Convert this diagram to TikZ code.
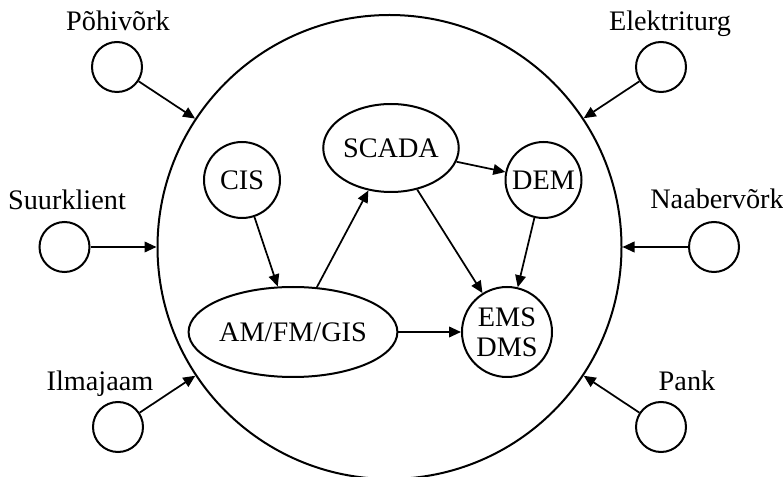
\documentclass[tikz,border=0pt]{standalone}
\usepackage{fontspec}
\setmainfont{Liberation Serif}
\usetikzlibrary{shapes.geometric,arrows.meta}

\begin{document}
\begin{tikzpicture}[x=0.75pt,y=-0.75pt,
    line width=1.5pt,
    every node/.style={font=\fontsize{21.2}{22.5}\selectfont},
    src/.style={draw,circle,minimum size=37.5pt,inner sep=0pt},
    mod/.style={draw,circle,minimum size=57pt,inner sep=0pt},
    oval/.style={draw,ellipse,inner sep=0pt},
    lbl/.style={anchor=base,inner sep=0pt},
    link/.style={-{Triangle[length=9pt,width=8pt]},line width=1.3pt}]

\useasboundingbox (0,0) rectangle (783,477);

% system boundary
\node[draw,circle,minimum size=348pt,inner sep=0pt] (sys) at (389.5,247) {};

% outside parties
\node[src] (pohi) at (117,67) {};
\node[src] (elek) at (661,67) {};
\node[src] (suur) at (64.5,247) {};
\node[src] (naab) at (714,247) {};
\node[src] (ilma) at (118,427) {};
\node[src] (pank) at (661,427) {};

\node[lbl] (pohiL) at (118,31) {Põhivõrk};
\node[lbl] (elekL) at (670,31) {Elektriturg};
\node[lbl] (suurL) at (67,210) {Suurklient};
\node[lbl] (naabL) at (717,209) {Naabervõrk};
\node[lbl] (ilmaL) at (100,391) {Ilmajaam};
\node[lbl] (pankL) at (687,391) {Pank};

% inner systems
\node[mod] (cis) at (242,180) {CIS};
\node[oval,minimum width=100.5pt,minimum height=66pt] (scada) at (391,148) {SCADA};
\node[mod] (dem) at (543.5,180) {DEM};
\node[oval,minimum width=135pt,minimum height=67.5pt] (gis) at (293,332) {AM/FM/GIS};
\node[draw,circle,minimum size=67.5pt,inner sep=0pt,align=center] (ems) at (507,332) {EMS\\DMS};

\foreach \s in {pohi,elek,suur,naab,ilma,pank}
    \draw[link] (\s) -- (sys);

\draw[link] (cis) -- (gis);
\draw[link] (gis) -- (scada);
\draw[link] (scada) -- (dem);
\draw[link] (scada) -- (ems);
\draw[link] (dem) -- (ems);
\draw[link] (gis) -- (ems);
\end{tikzpicture}
\end{document}
